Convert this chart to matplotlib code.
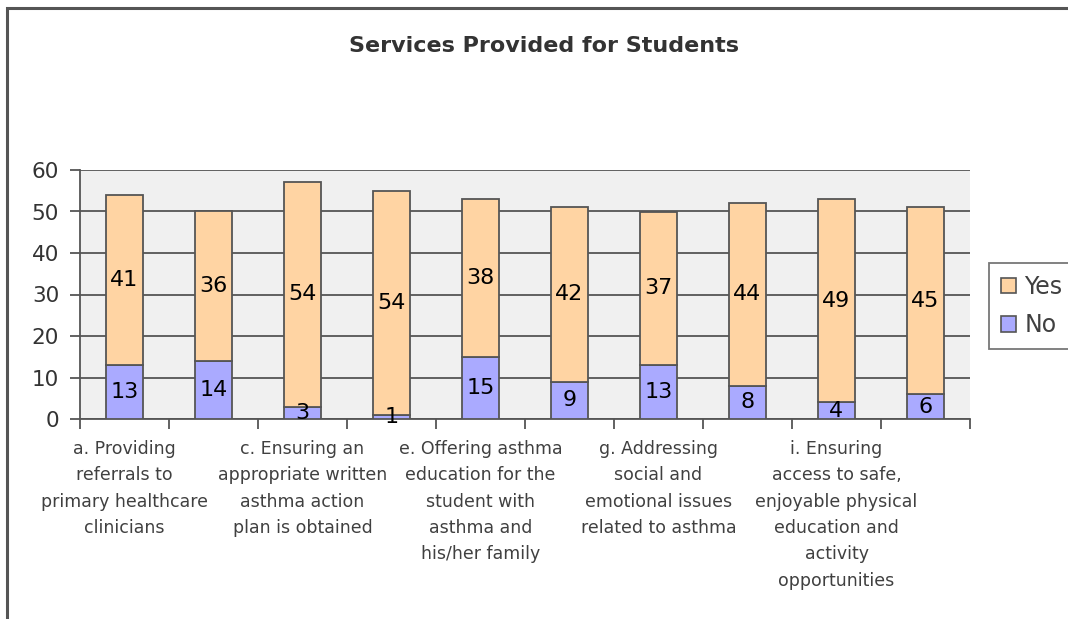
import numpy as np
from matplotlib import pyplot as plt
from matplotlib.patches import Rectangle, Patch

# Survey counts per service, stacked as No (bottom) and Yes (top)
categories = ["a. Providing\nreferrals to\nprimary healthcare\nclinicians",
              "",
              "c. Ensuring an\nappropriate written\nasthma action\nplan is obtained",
              "",
              "e. Offering asthma\neducation for the\nstudent with\nasthma and\nhis/her family",
              "",
              "g. Addressing\nsocial and\nemotional issues\nrelated to asthma",
              "",
              "i. Ensuring\naccess to safe,\nenjoyable physical\neducation and\nactivity\nopportunities",
              ""]
no_counts = [13, 14, 3, 1, 15, 9, 13, 8, 4, 6]
yes_counts = [41, 36, 54, 54, 38, 42, 37, 44, 49, 45]
y_ticks = [0, 10, 20, 30, 40, 50, 60]

yes_color = '#FFD4A3'
no_color = '#AAAAFF'
edge = '#555555'
text_gray = '#404040'

plt.rcParams['font.family'] = ['DejaVu Sans']

fig = plt.figure(figsize=(10.68, 6.19), dpi=100)
ax = fig.add_axes([80/1068, 1 - 419/619, 890/1068, 249/619])
ax.set_facecolor('#F0F0F0')

x = np.arange(len(no_counts))
no_arr = np.array(no_counts)
yes_arr = np.array(yes_counts)
width = 0.42

ax.bar(x, no_arr, width, color=no_color, edgecolor=edge, linewidth=1.3, zorder=3)
ax.bar(x, yes_arr, width, bottom=no_arr, color=yes_color, edgecolor=edge,
       linewidth=1.3, zorder=3)

# value labels centred in each segment
for xi, n, y in zip(x, no_arr, yes_arr):
    ax.text(xi, n / 2, str(n), ha='center', va='center', fontsize=16,
            color='black', zorder=4)
    ax.text(xi, n + y / 2, str(y), ha='center', va='center', fontsize=16,
            color='black', zorder=4)

ax.set_xlim(-0.5, len(x) - 0.5)
ax.set_ylim(0, 60)
ax.set_yticks(y_ticks)
ax.yaxis.grid(True, color=edge, linewidth=1.3, zorder=0)
ax.set_axisbelow(True)

# labels only on every other category, tick marks between categories
ax.set_xticks(x[::2])
ax.set_xticklabels(categories[::2], fontsize=12.5, color=text_gray,
                   linespacing=1.6, va='top')
ax.set_xticks(np.arange(-0.5, len(x)), minor=True)
ax.tick_params(axis='x', which='major', length=0, pad=15)
ax.tick_params(axis='x', which='minor', length=7, width=1.3, color=edge,
               direction='out')
ax.tick_params(axis='y', length=7, width=1.3, color=edge, labelsize=15.5,
               labelcolor='#333333', pad=8)

for side in ['top', 'right']:
    ax.spines[side].set_visible(False)
for side in ['left', 'bottom']:
    ax.spines[side].set_color(edge)
    ax.spines[side].set_linewidth(1.3)

fig.text(544/1068, 1 - 46/619, "Services Provided for Students",
         ha='center', va='center', fontsize=16, fontweight='bold',
         color='#333333')

handles = [Patch(facecolor=yes_color, edgecolor=edge, linewidth=1.2),
           Patch(facecolor=no_color, edgecolor=edge, linewidth=1.2)]
leg = fig.legend(handles, ["Yes", "No"], loc='upper left',
                 bbox_to_anchor=(989/1068, 1 - 263/619), borderaxespad=0,
                 frameon=True, fancybox=False, fontsize=17,
                 handlelength=0.65, handleheight=0.65, handletextpad=0.35,
                 labelspacing=0.6, borderpad=0.5, labelcolor=text_gray)
leg.get_frame().set_edgecolor(edge)
leg.get_frame().set_linewidth(1.3)

# outer chart border, running off the right and bottom edges
fig.patches.append(Rectangle((7/1068, -0.1), 2, 1.1 - 8/619,
                             transform=fig.transFigure, fill=False,
                             edgecolor=edge, linewidth=2.2))

fig.savefig('out.png', dpi=100)
